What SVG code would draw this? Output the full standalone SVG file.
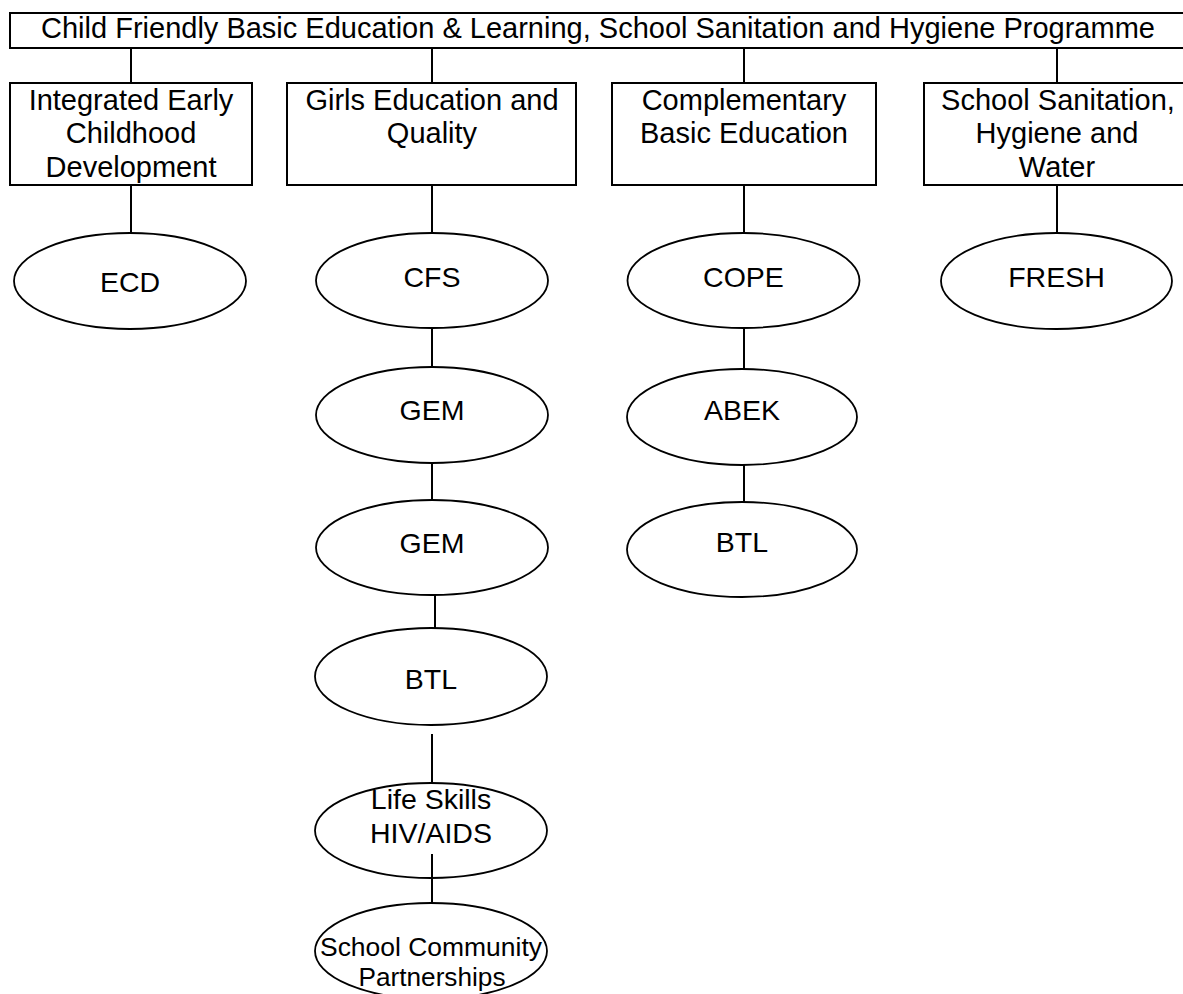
<svg xmlns="http://www.w3.org/2000/svg" width="1183" height="994" viewBox="0 0 1183 994">
<style>
  .box { fill: #fff; stroke: #000; stroke-width: 2; }
  .ell { fill: #fff; stroke: #000; stroke-width: 1.8; }
  .con { stroke: #000; stroke-width: 2; fill: none; }
  text { font-family: "Liberation Sans", Arial, sans-serif; fill: #000; text-anchor: middle; }
  .t { font-size: 29px; }
  .e { font-size: 28.5px; }
  .s { font-size: 25px; }
</style>
<rect width="1183" height="994" fill="#fff"/>
<g id="connectors">
  <line class="con" x1="131" y1="48" x2="131" y2="83"/>
  <line class="con" x1="432" y1="48" x2="432" y2="83"/>
  <line class="con" x1="744" y1="48" x2="744" y2="83"/>
  <line class="con" x1="1057" y1="48" x2="1057" y2="83"/>
  <line class="con" x1="131" y1="185" x2="131" y2="233"/>
  <line class="con" x1="432" y1="185" x2="432" y2="233"/>
  <line class="con" x1="744" y1="185" x2="744" y2="233"/>
  <line class="con" x1="1057" y1="185" x2="1057" y2="233"/>
  <line class="con" x1="432" y1="328" x2="432" y2="367"/>
  <line class="con" x1="432" y1="463" x2="432" y2="500"/>
  <line class="con" x1="435" y1="595" x2="435" y2="628"/>
  <line class="con" x1="432" y1="734" x2="432" y2="783"/>
  <line class="con" x1="744" y1="328" x2="744" y2="369"/>
  <line class="con" x1="744" y1="463" x2="744" y2="502"/>
</g>
<g id="root">
  <rect class="box" x="10" y="13" width="1185" height="35"/>
  <text class="t" x="598" y="38">Child Friendly Basic Education &amp; Learning, School Sanitation and Hygiene Programme</text>
</g>
<g id="iecd">
  <rect class="box" x="10" y="83" width="242" height="102"/>
  <text class="t" x="131" y="110">Integrated Early</text>
  <text class="t" x="131" y="143">Childhood</text>
  <text class="t" x="131" y="177">Development</text>
</g>
<g id="geq">
  <rect class="box" x="287" y="83" width="289" height="102"/>
  <text class="t" x="432" y="110">Girls Education and</text>
  <text class="t" x="432" y="143">Quality</text>
</g>
<g id="cbe">
  <rect class="box" x="612" y="83" width="264" height="102"/>
  <text class="t" x="744" y="110">Complementary</text>
  <text class="t" x="744" y="143">Basic Education</text>
</g>
<g id="shw">
  <rect class="box" x="924" y="83" width="270" height="102"/>
  <text class="t" x="1058" y="110">School Sanitation,</text>
  <text class="t" x="1057" y="143">Hygiene and</text>
  <text class="t" x="1057" y="177">Water</text>
</g>
<g id="ecd">
  <ellipse class="ell" cx="130" cy="281" rx="116" ry="48"/>
  <text class="e" x="130" y="292">ECD</text>
</g>
<g id="cfs">
  <ellipse class="ell" cx="432" cy="280.5" rx="116" ry="47.5"/>
  <text class="e" x="432" y="287">CFS</text>
</g>
<g id="gem1">
  <ellipse class="ell" cx="432" cy="415" rx="116" ry="48"/>
  <text class="e" x="432" y="420">GEM</text>
</g>
<g id="gem2">
  <ellipse class="ell" cx="432" cy="547.5" rx="116" ry="47.5"/>
  <text class="e" x="432" y="553">GEM</text>
</g>
<g id="btl1">
  <ellipse class="ell" cx="431" cy="676.5" rx="116" ry="48.5"/>
  <text class="e" x="431" y="689">BTL</text>
</g>
<g id="lifeskills">
  <ellipse class="ell" cx="431" cy="830.5" rx="116" ry="47.5"/>
  <text class="e" x="431" y="809">Life Skills</text>
  <text class="e" x="431" y="843">HIV/AIDS</text>
</g>
<g id="scp">
  <line class="con" x1="432" y1="854" x2="432" y2="903"/>
  <ellipse class="ell" cx="431" cy="951" rx="116" ry="48"/>
  <text class="s" x="431" y="956" textLength="222" lengthAdjust="spacingAndGlyphs">School Community</text>
  <text class="s" x="432" y="986" textLength="147" lengthAdjust="spacingAndGlyphs">Partnerships</text>
</g>
<g id="cope">
  <ellipse class="ell" cx="743.5" cy="280.5" rx="116" ry="47.5"/>
  <text class="e" x="743.5" y="287">COPE</text>
</g>
<g id="abek">
  <ellipse class="ell" cx="742" cy="417" rx="115" ry="48"/>
  <text class="e" x="742" y="420">ABEK</text>
</g>
<g id="btl2">
  <ellipse class="ell" cx="742" cy="549.5" rx="115" ry="47.5"/>
  <text class="e" x="742" y="552">BTL</text>
</g>
<g id="fresh">
  <ellipse class="ell" cx="1056.5" cy="281" rx="115.5" ry="48"/>
  <text class="e" x="1056.5" y="287">FRESH</text>
</g>
</svg>
